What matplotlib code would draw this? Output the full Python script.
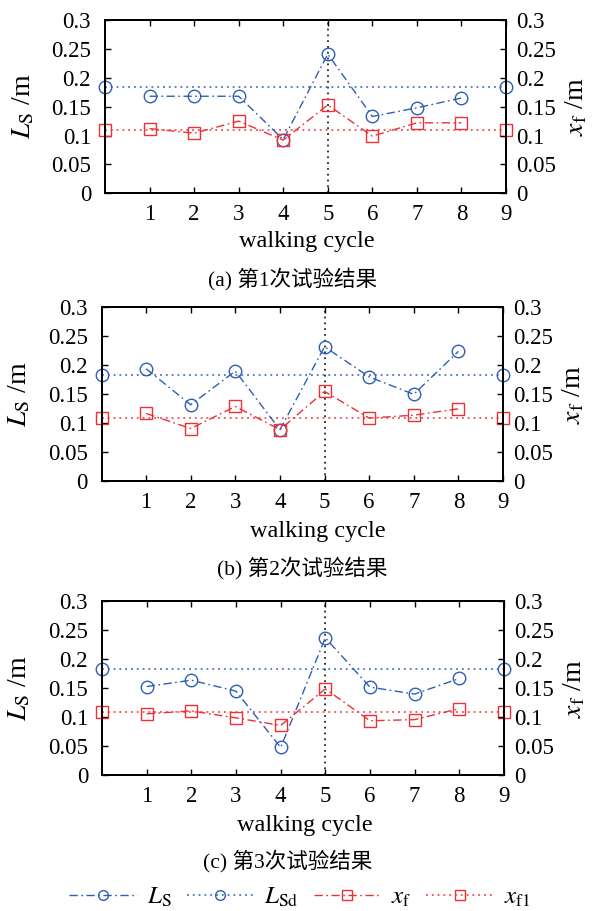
import matplotlib
matplotlib.use("Agg")
import matplotlib.pyplot as plt
from matplotlib.lines import Line2D

plt.rcParams['font.family'] = ['Liberation Serif', 'Noto Sans CJK SC', 'DejaVu Sans']
plt.rcParams['mathtext.fontset'] = 'stix'

# ---- data ----
cycles = [1, 2, 3, 4, 5, 6, 7, 8]
ends = [0, 9]
xticks = [1, 2, 3, 4, 5, 6, 7, 8, 9]
yticks = [0, 0.05, 0.1, 0.15, 0.2, 0.25, 0.3]
ytick_labels = ['0', '0.05', '0.1', '0.15', '0.2', '0.25', '0.3']

ls_a = [0.168, 0.168, 0.168, 0.093, 0.241, 0.133, 0.148, 0.165]
xf_a = [0.112, 0.104, 0.125, 0.092, 0.153, 0.099, 0.122, 0.122]
ls_b = [0.194, 0.132, 0.190, 0.089, 0.232, 0.180, 0.150, 0.224]
xf_b = [0.117, 0.091, 0.129, 0.089, 0.155, 0.109, 0.114, 0.125]
ls_c = [0.153, 0.164, 0.145, 0.048, 0.237, 0.152, 0.140, 0.167]
xf_c = [0.106, 0.111, 0.099, 0.086, 0.149, 0.094, 0.096, 0.115]
lsd_value = 0.184
xf1_value = 0.110
event_cycle = 5

captions = ['(a) 第1次试验结果', '(b) 第2次试验结果', '(c) 第3次试验结果']
legend_labels = [r'$L_{\rm S}$', r'$L_{\rm Sd}$', r'$x_{\rm f}$', r'$x_{\rm f1}$']

BLUE = '#2f5fb3'
RED = '#ee3035'

W, H = 594, 911
fig = plt.figure(figsize=(W / 100, H / 100), dpi=100)

panels = [
    (ls_a, xf_a, (105, 506, 20, 193.3), 241, 279, 307, 292),
    (ls_b, xf_b, (101.5, 503, 307.3, 481.3), 531, 568, 318, 302),
    (ls_c, xf_c, (102, 504, 601.3, 775.3), 826, 861, 305, 288),
]

dashdot = (0, (6, 2.5, 1.2, 2.5))
dotted = (0, (1.2, 2.6))

for i, (ls, xf, (l, r, t, b), xl_y, cap_y, xl_x, cap_x) in enumerate(panels):
    ax = fig.add_axes([l / W, 1 - b / H, (r - l) / W, (b - t) / H])
    ax.set_xlim(0, 9)
    ax.set_ylim(0, 0.3)
    ax.axvline(event_cycle, color='black', linestyle=dotted, lw=1.1, zorder=1)
    ax.plot(ends, [lsd_value, lsd_value], color=BLUE, linestyle=dotted, lw=1.1,
            marker='o', ms=9, mfc='none', mec=BLUE, mew=1.0, clip_on=False, zorder=3)
    ax.plot(ends, [xf1_value, xf1_value], color=RED, linestyle=dotted, lw=1.1,
            marker='s', ms=9, mfc='none', mec=RED, mew=1.0, clip_on=False, zorder=3)
    ax.plot(cycles, ls, color=BLUE, linestyle=dashdot, lw=1.0,
            marker='o', ms=9, mfc='none', mec=BLUE, mew=1.0, zorder=4)
    ax.plot(cycles, xf, color=RED, linestyle=dashdot, lw=1.0,
            marker='s', ms=9, mfc='none', mec=RED, mew=1.0, zorder=4)

    ax.set_xticks(xticks)
    ax.set_yticks(yticks)
    ax.set_yticklabels(ytick_labels)
    ax.tick_params(direction='in', length=4, width=1.0, labelsize=16.5, top=True)
    ax.tick_params(axis='y', pad=10)
    ax.tick_params(axis='x', pad=8)
    for sp in ax.spines.values():
        sp.set_linewidth(1.4)
    ax.set_ylabel(r'$L_{\rm S}$ /m', fontsize=20)
    ax.yaxis.set_label_coords(-0.172, 0.5)

    ax2 = ax.twinx()
    ax2.set_ylim(0, 0.3)
    ax2.set_yticks(yticks)
    ax2.set_yticklabels(ytick_labels)
    ax2.tick_params(direction='in', length=4, width=1.0, labelsize=16.5, pad=7)
    for sp in ax2.spines.values():
        sp.set_linewidth(1.4)
    ax2.set_ylabel(r'$x_{\rm f}$ /m', fontsize=20, rotation=90)
    ax2.yaxis.set_label_coords(1.145, 0.5)

    fig.text(xl_x / W, 1 - xl_y / H, 'walking cycle', ha='center', va='center',
             fontsize=17.5)
    fig.text(cap_x / W, 1 - cap_y / H, captions[i], ha='center', va='center',
             fontsize=15.5)

handles = [
    Line2D([], [], color=BLUE, linestyle=dashdot, lw=1.0, marker='o', ms=7,
           mfc='none', mec=BLUE),
    Line2D([], [], color=BLUE, linestyle=dotted, lw=1.1, marker='o', ms=7,
           mfc='none', mec=BLUE),
    Line2D([], [], color=RED, linestyle=dashdot, lw=1.0, marker='s', ms=7,
           mfc='none', mec=RED),
    Line2D([], [], color=RED, linestyle=dotted, lw=1.1, marker='s', ms=7,
           mfc='none', mec=RED),
]
fig.legend(handles, legend_labels, loc='center', ncol=4,
           bbox_to_anchor=(0.505, 1 - 897 / H), frameon=False, fontsize=18,
           handlelength=2.7, handletextpad=0.4, columnspacing=0.6)

fig.savefig('out.png', dpi=100)
